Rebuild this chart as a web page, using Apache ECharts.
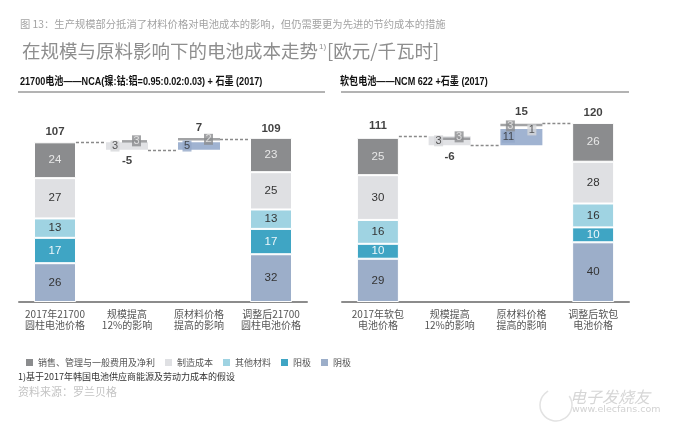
<!DOCTYPE html>
<html><head><meta charset="utf-8">
<script src="https://cdn.jsdelivr.net/npm/echarts@6/dist/echarts.min.js"></script>
<style>html,body{margin:0;padding:0;background:#fff}#c{width:676px;height:433px}</style>
</head><body><div id="c"></div>
<script>
// ---------------- DATA ----------------
const categoriesL = ['2017年21700\n圆柱电池价格', '规模提高\n12%的影响', '原材料价格\n提高的影响', '调整后21700\n圆柱电池价格'];
const categoriesR = ['2017年软包\n电池价格', '规模提高\n12%的影响', '原材料价格\n提高的影响', '调整后软包\n电池价格'];
const legendNames = ['销售、管理与一般费用及净利', '制造成本', '其他材料', '阳极', '阴极'];
// [start bar, end bar]
const cathodeL = [26, 32], anodeL = [17, 17], otherL = [13, 13], mfgL = [27, 25], sgaL = [24, 23];
const cathodeR = [29, 40], anodeR = [10, 10], otherR = [16, 16], mfgR = [30, 28], sgaR = [25, 26];
const totalsL = [107, 109], totalsR = [111, 120];
const scaleDeltaL = -5, rawDeltaL = 7;
const scaleDeltaR = -6, rawDeltaR = 15;
const scalePartsL = [3, 3];      // 制造成本, 销售...
const rawPartsL = [5, 2];        // 阴极, 销售...
const scalePartsR = [3, 3];      // 制造成本, 销售...
const rawPartsR = [11, 3, 1];    // 阴极, 销售..., 制造成本

// ---------------- STYLE ----------------
const NUMFONT = '"Liberation Sans Narrow","Arial Narrow","Liberation Sans",Arial,"Noto Sans CJK SC",sans-serif';
const CJK = '"Noto Sans CJK SC",sans-serif';
const COLORS = {sga: '#8b8c8e', mfg: '#dfe0e3', other: '#9fd3e2', anode: '#3fa5c4', cathode: '#9caec9'};
const LABELC = {sga: '#e8e8e8', mfg: '#333', other: '#333', anode: '#eef8fb', cathode: '#333'};
const NAMES = {sga: legendNames[0], mfg: legendNames[1], other: legendNames[2], anode: legendNames[3], cathode: legendNames[4]};
const BOX = {
  light: {color: '#d6d7da', text: '#333'},
  dark: {color: '#8b8c8e', text: '#eee'},
  blue: {color: '#94a8c8', text: '#2a2a2a'}
};
const BAR_W = 42;
const layoutL = {
  scale: {boxes: [{kind: 'light', part: 0, dx: -12, lvl: 'mid', dy: 0}, {kind: 'dark', part: 1, dx: 9.5, lvl: 'top', dy: -1.5}], line: {dx: 7.5, w: 25, dy: -1}},
  raw: {boxes: [{kind: 'blue', part: 0, dx: -12, lvl: 'mid', dy: 0}, {kind: 'dark', part: 1, dx: 9.5, lvl: 'top', dy: 0}], line: {dx: 0, w: 42, dy: 0}}
};
const layoutR = {
  scale: {boxes: [{kind: 'light', part: 0, dx: -11, lvl: 'mid', dy: 0}, {kind: 'dark', part: 1, dx: 9.5, lvl: 'top', dy: 0.5}], line: {dx: 4.5, w: 32, dy: 2.5}},
  raw: {boxes: [{kind: 'blue', part: 0, dx: -13, lvl: 'mid', dy: 0}, {kind: 'dark', part: 1, dx: -11, lvl: 'top', dy: 3}, {kind: 'light', part: 2, dx: 10.5, lvl: 'top', dy: 7}], line: {dx: 0, w: 42, dy: 2}}
};

const panels = [
  {cats: categoriesL, segs: {cathode: cathodeL, anode: anodeL, other: otherL, mfg: mfgL, sga: sgaL}, totals: totalsL,
   scaleDelta: scaleDeltaL, rawDelta: rawDeltaL, scaleParts: scalePartsL, rawParts: rawPartsL, layout: layoutL},
  {cats: categoriesR, segs: {cathode: cathodeR, anode: anodeR, other: otherR, mfg: mfgR, sga: sgaR}, totals: totalsR,
   scaleDelta: scaleDeltaR, rawDelta: rawDeltaR, scaleParts: scalePartsR, rawParts: rawPartsR, layout: layoutR}
];

function buildPanel(p, g, catW) {
  const start = p.totals[0], end = p.totals[1];
  const scaleBase = start + p.scaleDelta;
  const rawTop = scaleBase + p.rawDelta;
  const scaleBand = -p.scaleDelta;
  const rawBand = p.rawParts[0];
  const series = [];
  const common = {type: 'bar', xAxisIndex: g, yAxisIndex: g, stack: 's' + g, barWidth: BAR_W, silent: true};
  series.push(Object.assign({}, common, {name: 'base' + g, data: ['-', scaleBase, scaleBase, '-'], itemStyle: {color: 'rgba(0,0,0,0)'}}));
  ['cathode', 'anode', 'other', 'mfg', 'sga'].forEach(k => {
    const v = p.segs[k];
    series.push(Object.assign({}, common, {
      name: NAMES[k], data: [v[0], '-', '-', v[1]],
      itemStyle: {color: COLORS[k], borderColor: '#fff', borderWidth: 1},
      label: {show: true, position: 'inside', color: LABELC[k], fontSize: 11.5, fontFamily: NUMFONT}
    }));
  });
  series.push(Object.assign({}, common, {
    name: 'band' + g,
    data: ['-', {value: scaleBand, itemStyle: {color: '#e1e2e5'}}, {value: rawBand, itemStyle: {color: '#a0b3d1'}}, '-']
  }));
  // connectors (hidden value x axis)
  const hw = (BAR_W / 2) / catW;
  series.push({
    type: 'lines', coordinateSystem: 'cartesian2d', xAxisIndex: 2 + g, yAxisIndex: g, silent: true, z: 1,
    lineStyle: {color: '#8a8a8a', width: 1.3, type: [3, 2], opacity: 1},
    data: [
      {coords: [[0 + hw, start], [1 - hw, start]]},
      {coords: [[1 + hw, scaleBase], [2 - hw, scaleBase]]},
      {coords: [[2 + hw, rawTop], [3 - hw, rawTop]]}
    ]
  });
  // dark lines + boxes
  const lvl = {
    scale: {mid: scaleBase + scaleBand / 2, top: start, idx: 1, parts: p.scaleParts},
    raw: {mid: scaleBase + rawBand / 2, top: rawTop, idx: 2, parts: p.rawParts}
  };
  const lineData = [], boxData = [];
  ['scale', 'raw'].forEach(key => {
    const L = p.layout[key], V = lvl[key];
    lineData.push({value: [V.idx, V.top], symbolSize: [L.line.w, 2.5], symbolOffset: [L.line.dx, L.line.dy]});
    L.boxes.forEach(b => {
      const val = V.parts[b.part];
      const st = BOX[b.kind];
      boxData.push({
        value: [V.idx, b.lvl === 'mid' ? V.mid : V.top],
        symbolSize: [String(val).length > 1 ? 13 : 9, 11], symbolOffset: [b.dx, b.dy],
        itemStyle: {color: st.color},
        label: {show: true, position: 'inside', formatter: String(val), color: st.text}
      });
    });
  });
  series.push({type: 'scatter', xAxisIndex: g, yAxisIndex: g, symbol: 'rect', silent: true, z: 3,
    itemStyle: {color: '#8b8c8e'}, data: lineData});
  series.push({type: 'scatter', xAxisIndex: g, yAxisIndex: g, symbol: 'rect', silent: true, z: 4,
    label: {fontSize: 11, fontFamily: NUMFONT}, data: boxData});
  // total labels
  series.push({type: 'scatter', xAxisIndex: g, yAxisIndex: g, symbolSize: 1, silent: true, z: 5,
    itemStyle: {color: 'rgba(0,0,0,0)'},
    label: {show: true, fontSize: 11.5, fontWeight: 'bold', color: '#111', fontFamily: NUMFONT, distance: 4},
    data: [
      {value: [0, start], label: {position: 'top', formatter: String(start)}},
      {value: [1, scaleBase], label: {position: 'bottom', formatter: String(p.scaleDelta), distance: 5}},
      {value: [2, rawTop], label: {position: 'top', formatter: String(p.rawDelta), distance: 5}},
      {value: [3, end], label: {position: 'top', formatter: String(end)}}
    ]});
  return series;
}

const grids = [{left: 19, width: 288, top: 108, height: 194}, {left: 342, width: 287, top: 108, height: 194}];
let series = [];
panels.forEach((p, g) => { series = series.concat(buildPanel(p, g, grids[g].width / 4)); });

const catAxis = (g, cats) => ({
  type: 'category', gridIndex: g, data: cats,
  axisLine: {show: true, lineStyle: {color: '#8c8c8c', width: 2}},
  axisTick: {show: false},
  axisLabel: {interval: 0, fontSize: 10, lineHeight: 11.5, color: '#555', margin: 6, fontFamily: CJK}
});

const option = {
  animation: false,
  backgroundColor: '#fff',
  grid: grids,
  xAxis: [catAxis(0, categoriesL), catAxis(1, categoriesR),
    {type: 'value', gridIndex: 0, min: -0.5, max: 3.5, show: false},
    {type: 'value', gridIndex: 1, min: -0.5, max: 3.5, show: false}],
  yAxis: [
    {type: 'value', gridIndex: 0, min: 0, max: 130, show: false},
    {type: 'value', gridIndex: 1, min: 0, max: 130, show: false}],
  legend: {
    data: legendNames, icon: 'rect', itemWidth: 9, itemHeight: 9, itemGap: 8,
    left: 24, top: 357, padding: 0, selectedMode: false,
    textStyle: {fontSize: 9, color: '#555', fontFamily: CJK, padding: [0, 0, 0, -1]}
  },
  graphic: [
    {type: 'text', x: 20, y: 24, style: {text: '图 13：生产规模部分抵消了材料价格对电池成本的影响，但仍需要更为先进的节约成本的措施',
      font: '10.3px ' + CJK, fill: '#a3a3a3', verticalAlign: 'middle'}},
    {type: 'text', x: 22, y: 51, style: {text: '{m|在规模与原料影响下的电池成本走势}{s|1)}{m|[欧元/千瓦时]}', verticalAlign: 'middle',
      rich: {m: {fontSize: 18.5, fontFamily: CJK, fill: '#8e8e8e'}, s: {fontSize: 8, fontFamily: NUMFONT, fill: '#8e8e8e', verticalAlign: 'top', padding: [1, 1, 0, 1]}}}},
    {type: 'text', x: 20, y: 81.5, scaleX: 0.79, style: {text: '21700电池——NCA(镍:钴:铝=0.95:0.02:0.03) + 石墨 (2017)',
      font: 'bold 11.5px ' + NUMFONT, fill: '#111', verticalAlign: 'middle'}},
    {type: 'text', x: 340, y: 81.5, scaleX: 0.79, style: {text: '软包电池——NCM 622 +石墨 (2017)',
      font: 'bold 11.5px ' + NUMFONT, fill: '#111', verticalAlign: 'middle'}},
    {type: 'line', shape: {x1: 18, y1: 92, x2: 325, y2: 92}, style: {stroke: '#9a9a9a', lineWidth: 1.5}},
    {type: 'line', shape: {x1: 341, y1: 92, x2: 629, y2: 92}, style: {stroke: '#9a9a9a', lineWidth: 1.5}},
    {type: 'text', x: 18, y: 377, style: {text: '1)基于2017年韩国电池供应商能源及劳动力成本的假设',
      font: '9px ' + CJK, fill: '#333', verticalAlign: 'middle'}},
    {type: 'text', x: 18, y: 392, style: {text: '资料来源：罗兰贝格', font: '11px ' + CJK, fill: '#c4c4c4', verticalAlign: 'middle'}},
    {type: 'arc', shape: {cx: 556, cy: 405, r: 16, startAngle: -0.6, endAngle: 4.2}, style: {fill: 'none', stroke: '#e2e2e2', lineWidth: 1.5}},
    {type: 'text', x: 570, y: 397, style: {text: '电子发烧友', font: 'italic 16px ' + CJK, fill: '#d6d6d6', verticalAlign: 'middle'}},
    {type: 'text', x: 572, y: 410, style: {text: 'www.elecfans.com', font: '9.5px "DejaVu Sans",sans-serif', fill: '#d2d2d2', verticalAlign: 'middle'}}
  ],
  series: series
};
const chart = echarts.init(document.getElementById('c'), null, {renderer: 'canvas'});
chart.setOption(option);
</script>
</body></html>
